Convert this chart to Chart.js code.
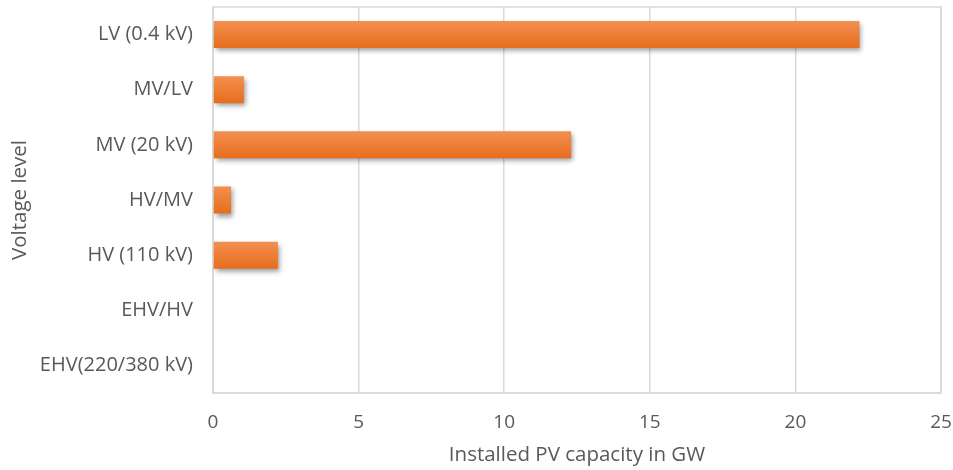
<!DOCTYPE html>
<html>
<head>
<meta charset="utf-8">
<script src="https://cdn.jsdelivr.net/npm/chart.js@4/dist/chart.umd.min.js"></script>
<style>
  html, body { margin: 0; padding: 0; background: #ffffff; }
  #wrap { width: 953px; height: 470px; }
</style>
</head>
<body>
<div id="wrap"><canvas id="c" width="953" height="470"></canvas></div>
<script>
// Voltage levels, top to bottom
const voltageLevels = ['LV (0.4 kV)', 'MV/LV', 'MV (20 kV)', 'HV/MV', 'HV (110 kV)', 'EHV/HV', 'EHV(220/380 kV)'];
// Installed PV capacity per level, GW
const capacityGW = [22.2, 1.06, 12.3, 0.62, 2.23, 0, 0];
// Axis ticks
const xTicks = [0, 5, 10, 15, 20, 25];

const FONT = "'Open Sans', 'Liberation Sans', sans-serif";
const TEXT = '#595959';
const GRID = '#d9d9d9';
const BAR_FRACTION = 0.49;

// Vertical light-to-dark gradient, positioned on each bar's category band
function barGradient(context) {
  const chart = context.chart;
  const yScale = chart.scales.y;
  if (!yScale || !chart.chartArea || context.dataIndex === undefined) return '#ed7d31';
  const center = yScale.getPixelForValue(context.dataIndex);
  const band = (yScale.bottom - yScale.top) / voltageLevels.length;
  const half = band * BAR_FRACTION / 2;
  if (!isFinite(center) || !isFinite(half)) return '#ed7d31';
  const g = chart.ctx.createLinearGradient(0, center - half, 0, center + half);
  g.addColorStop(0, '#f38f52');
  g.addColorStop(1, '#e76d1c');
  return g;
}

// Soft drop shadow under bars and a border box around the plot
const plotDecor = {
  id: 'plotDecor',
  beforeDatasetsDraw(chart) {
    const ctx = chart.ctx;
    ctx.save();
    ctx.shadowColor = 'rgba(0,0,0,0.4)';
    ctx.shadowBlur = 5;
    ctx.shadowOffsetX = 2;
    ctx.shadowOffsetY = 3;
  },
  afterDatasetsDraw(chart) {
    chart.ctx.restore();
  },
  beforeDraw(chart) {
    const { ctx, chartArea: a } = chart;
    ctx.save();
    ctx.strokeStyle = GRID;
    ctx.lineWidth = 1.5;
    ctx.strokeRect(a.left, a.top, a.right - a.left, a.bottom - a.top);
    ctx.restore();
  }
};

new Chart(document.getElementById('c'), {
  type: 'bar',
  data: {
    labels: voltageLevels,
    datasets: [{
      data: capacityGW,
      backgroundColor: barGradient,
      borderWidth: 0,
      categoryPercentage: 1,
      barPercentage: BAR_FRACTION
    }]
  },
  plugins: [plotDecor],
  options: {
    indexAxis: 'y',
    responsive: false,
    animation: false,
    devicePixelRatio: 1,
    layout: { autoPadding: false, padding: { left: 0, top: 7, right: 12, bottom: 0 } },
    plugins: { legend: { display: false }, tooltip: { enabled: false } },
    scales: {
      x: {
        min: 0,
        max: 25,
        afterBuildTicks(scale) { scale.ticks = xTicks.map(v => ({ value: v })); },
        afterFit(scale) { scale.height = 77; },
        grid: { color: GRID, lineWidth: 1.5, drawTicks: true, tickLength: 18, tickColor: 'rgba(0,0,0,0)' },
        border: { color: GRID, width: 1.5 },
        ticks: { color: TEXT, padding: 0, font: { family: FONT, size: 19 } },
        title: {
          display: true,
          text: 'Installed PV capacity in GW',
          color: TEXT,
          font: { family: FONT, size: 20.5 },
          padding: { top: 0, bottom: 3 }
        }
      },
      y: {
        afterFit(scale) { scale.width = 213; },
        grid: { color: 'rgba(0,0,0,0)', drawOnChartArea: false, drawTicks: true, tickLength: 20, tickColor: 'rgba(0,0,0,0)' },
        border: { color: GRID, width: 1.5 },
        ticks: { color: TEXT, padding: 0, font: { family: FONT, size: 20, lineHeight: 0.7 } },
        title: {
          display: true,
          text: 'Voltage level',
          color: TEXT,
          font: { family: FONT, size: 20.5 },
          padding: { top: 8, bottom: 0 }
        }
      }
    }
  }
});
</script>
</body>
</html>
